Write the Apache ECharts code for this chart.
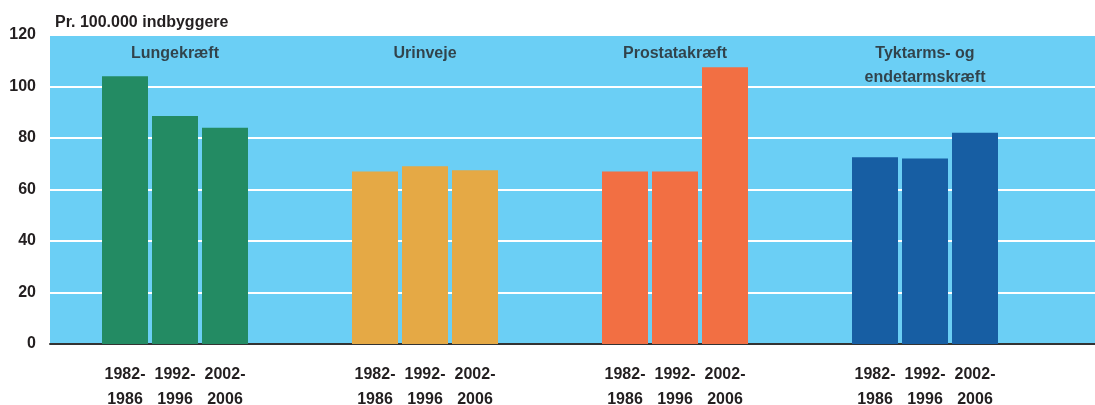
<!DOCTYPE html>
<html>
<head>
<meta charset="utf-8">
<script src="https://cdn.jsdelivr.net/npm/echarts@6/dist/echarts.min.js"></script>
<style>
  html, body { margin: 0; padding: 0; background: #fff; }
  #chart { width: 1095px; height: 405px; }
</style>
</head>
<body>
<div id="chart"></div>
<script>
// periods shown under every bar
var periods = ['1982-\n1986', '1992-\n1996', '2002-\n2006'];
// cancer types (group titles)
var groups = ['Lungekræft', 'Urinveje', 'Prostatakræft', 'Tyktarms- og\nendetarmskræft'];
// values per 100.000, one array per group
var lunge = [104, 88.5, 84];
var urin = [67, 69, 67.5];
var prostata = [67, 67, 107.5];
var tyktarm = [72.5, 72, 82];
var groupValues = [lunge, urin, prostata, tyktarm];
var colors = ['#238b63', '#e5a945', '#f26f43', '#175ea3'];
var yTicks = [0, 20, 40, 60, 80, 100, 120];

// 21 slots: 1 empty, then 3 bars + 2 empty per group
var cats = [''];
var startIdx = [];
groups.forEach(function (g, gi) {
  startIdx.push(cats.length);
  periods.forEach(function (p) { cats.push(p); });
  cats.push('');
  cats.push('');
});

var series = groupValues.map(function (vals, gi) {
  var data = cats.map(function () { return '-'; });
  vals.forEach(function (v, i) { data[startIdx[gi] + i] = v; });
  return {
    type: 'bar',
    name: groups[gi],
    data: data,
    barWidth: 46,
    barGap: '-100%',
    itemStyle: { color: colors[gi] }
  };
});

// group titles, placed over the middle bar of each group
series.push({
  type: 'scatter',
  symbolSize: 1,
  itemStyle: { color: 'rgba(0,0,0,0)' },
  silent: true,
  data: groups.map(function (g, gi) {
    return { value: [startIdx[gi] + 1, 117.6], name: g };
  }),
  label: {
    show: true,
    position: 'inside',
    verticalAlign: 'top',
    formatter: function (p) { return p.name; },
    color: '#231f20',
    fontFamily: 'Liberation Sans',
    fontWeight: 'bold',
    fontSize: 16,
    lineHeight: 24
  }
});

var chart = echarts.init(document.getElementById('chart'));
chart.setOption({
  animation: false,
  title: {
    text: 'Pr. 100.000 indbyggere',
    left: 50,
    top: 10,
    textStyle: {
      color: '#231f20',
      fontFamily: 'Liberation Sans',
      fontWeight: 'bold',
      fontSize: 16
    }
  },
  grid: {
    left: 50,
    top: 35,
    width: 1050,
    height: 309,
    outerBoundsMode: 'none',
    containLabel: false,
    show: true,
    backgroundColor: '#6bcff5',
    borderWidth: 0
  },
  xAxis: {
    type: 'category',
    data: cats,
    axisTick: { show: false },
    axisLine: { lineStyle: { color: '#333', width: 2 } },
    axisLabel: {
      interval: 0,
      margin: 18,
      color: '#231f20',
      fontFamily: 'Liberation Sans',
      fontWeight: 'bold',
      fontSize: 16,
      lineHeight: 25
    }
  },
  yAxis: {
    type: 'value',
    min: yTicks[0],
    max: yTicks[yTicks.length - 1],
    interval: 20,
    axisLine: { show: false },
    axisTick: { show: false },
    splitLine: { lineStyle: { color: '#ffffff', width: 2 } },
    axisLabel: {
      margin: 14,
      color: '#231f20',
      fontFamily: 'Liberation Sans',
      fontWeight: 'bold',
      fontSize: 16
    }
  },
  series: series
});
</script>
</body>
</html>
